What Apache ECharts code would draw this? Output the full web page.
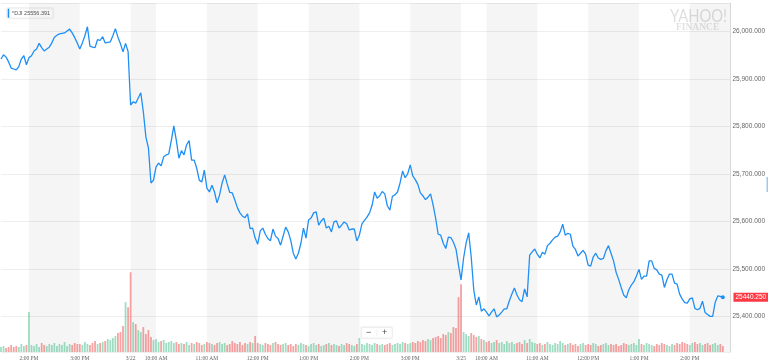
<!DOCTYPE html>
<html><head><meta charset="utf-8">
<script src="https://cdn.jsdelivr.net/npm/echarts@6/dist/echarts.min.js"></script>
<style>html,body{margin:0;padding:0;background:#fff}#c{width:768px;height:362px}</style>
</head><body><div id="c"></div>
<script>
// ---- data, 3-minute steps ----
const sessions = [
  {date:'3/21', start:'13:27', end:'15:57'},
  {date:'3/22', start:'09:30', end:'15:57'},
  {date:'3/25', start:'09:30', end:'14:48'}
];
const stepMinutes = 3;

const day1Prices = [25942,25951,25946,25936,25923,25921,25919,25926,25942,25949,
25930,25945,25949,25959,25963,25975,25966,25959,25963,25967,
25976,25988,25992,25995,25996,25997,26001,26005,25997,25987,
25976,25963,25976,25991,26010,25969,25967,25966,25983,25981,
25989,25976,25977,25978,25991,26006,25988,25974,25957,25975,
25958];
const day2Prices = [25845,25852,25849,25860,25871,25831,25778,25755,25681,25687,
25715,25723,25717,25736,25740,25742,25770,25801,25770,25733,
25749,25740,25761,25770,25729,25729,25712,25687,25683,25708,
25670,25662,25676,25662,25639,25656,25681,25698,25679,25661,
25660,25645,25629,25618,25611,25608,25616,25585,25586,25565,
25552,25580,25586,25573,25564,25559,25584,25569,25564,25550,
25569,25588,25578,25560,25533,25521,25533,25554,25586,25565,
25603,25607,25618,25620,25592,25601,25607,25586,25590,25578,
25599,25601,25586,25592,25599,25595,25582,25584,25584,25559,
25571,25595,25602,25609,25618,25634,25662,25649,25654,25663,
25658,25633,25624,25653,25656,25662,25681,25706,25692,25700,
25719,25696,25688,25678,25660,25654,25646,25651,25658,25635,
25607,25573,25571,25554,25543,25567,25566,25556,25542,25508];
const day3Prices = [25477,25523,25555,25576,25525,25456,25424,25441,25411,25416,
25409,25401,25409,25416,25399,25403,25409,25416,25416,25433,
25447,25460,25445,25435,25431,25458,25441,25529,25536,25542,
25531,25523,25535,25531,25549,25554,25561,25567,25569,25578,
25594,25571,25575,25573,25548,25541,25527,25533,25539,25531,
25508,25506,25525,25533,25523,25520,25522,25538,25549,25533,
25517,25493,25478,25461,25445,25439,25456,25466,25473,25485,
25499,25478,25485,25485,25517,25517,25501,25498,25489,25487,
25461,25477,25489,25489,25470,25468,25447,25437,25429,25428,
25437,25439,25417,25414,25417,25432,25408,25404,25400,25400,
25430,25443,25442,25440.25];

const day1Volumes = [0.5,0.6,0.4,0.5,0.7,0.5,0.6,0.5,0.8,0.6,0.7,
4.0,
0.7,0.6,0.8,0.5,0.9,0.7,0.6,0.8,0.7,0.9,0.6,0.8,0.7,1.0,0.6,0.8,0.7,0.9,0.8,
0.8,0.7,1.0,0.8,0.7,0.9,1.1,0.8,0.9,1.0,
1.1,1.3,1.2,1.4,1.6,1.9,
2.0,2.6,5.0,4.5];
const day2Volumes = [8.0,
3.0,2.8,2.2,2.0,2.5,1.8,2.2,
1.5,1.2,1.3,1.0,1.1,1.2,0.9,1.0,1.1,0.9,1.0,0.8,
0.9,0.8,1.0,0.7,0.9,0.8,1.0,0.9,0.7,0.8,1.0,0.9,0.8,0.7,0.9,1.0,0.8,0.9,0.7,0.8,1.1,0.9,0.8,1.0,0.7,0.9,0.8,1.0,0.9,1.6,
0.9,0.8,0.7,0.9,0.8,0.7,0.9,1.0,0.8,0.7,0.8,0.9,0.7,0.8,0.6,0.8,0.7,0.9,0.8,0.7,0.6,0.8,0.9,0.7,0.8,0.6,0.7,0.8,0.9,0.7,
0.8,0.7,0.6,0.8,0.7,0.9,0.8,0.7,0.6,0.8,1.4,0.8,0.7,0.9,0.8,0.7,0.9,0.8,0.7,0.8,
0.7,0.8,0.9,0.7,0.8,0.9,0.8,1.0,0.9,0.8,0.9,1.0,0.9,1.1,1.0,1.2,1.1,1.3,1.2,1.4,
1.5,1.6,1.4,1.8,1.7,2.0,1.9,2.5,2.4,5.5];
const day3Volumes = [6.8,
2.0,1.8,1.6,1.9,1.7,1.5,1.6,1.3,1.2,
1.0,1.1,0.9,1.0,1.2,0.9,1.0,0.8,1.1,0.9,1.0,0.8,0.9,1.0,0.8,1.2,0.9,1.3,1.0,0.9,
0.8,0.9,0.7,0.8,1.0,0.8,0.7,0.9,0.8,1.1,0.9,0.7,0.8,0.9,0.7,0.8,0.6,0.8,0.9,0.7,0.8,0.7,0.9,0.8,0.6,0.7,0.8,0.9,0.7,0.8,
0.7,0.8,0.6,0.7,0.9,0.8,0.7,0.8,0.9,0.7,1.3,0.8,0.7,0.9,0.8,0.7,0.6,0.8,0.7,0.9,0.8,0.7,0.6,0.8,0.7,0.9,0.8,1.0,0.9,0.8,0.7,0.9,1.0,0.8,0.9,0.7,0.8,0.9,0.7,0.8,0.9,0.7,0.8,0.6];

const tickCats = ['3/21 14:00','3/21 15:00','3/22 09:30','3/22 10:00','3/22 11:00','3/22 12:00','3/22 13:00','3/22 14:00','3/22 15:00','3/25 09:30','3/25 10:00','3/25 11:00','3/25 12:00','3/25 13:00','3/25 14:00'];
const tickLabels = ['2:00 PM','3:00 PM','3/22','10:00 AM','11:00 AM','12:00 PM','1:00 PM','2:00 PM','3:00 PM','3/25','10:00 AM','11:00 AM','12:00 PM','1:00 PM','2:00 PM'];
const symbolName = '^DJI';
const legendValue = '25556.391';
const lastPrice = 25440.25;

// ---- build ----
function toMin(s){const p=s.split(':');return +p[0]*60+ +p[1];}
function pad(n){return (n<10?'0':'')+n;}
const categories = [];
sessions.forEach(s=>{
  for(let m=toMin(s.start); m<=toMin(s.end); m+=stepMinutes){
    categories.push(s.date+' '+pad(Math.floor(m/60))+':'+pad(m%60));
  }
});
const prices = day1Prices.concat(day2Prices, day3Prices);
const volumes = day1Volumes.concat(day2Volumes, day3Volumes);
while(prices.length<categories.length) prices.push(null);
while(volumes.length<categories.length) volumes.push(null);
const lastIdx = day1Prices.length+day2Prices.length+day3Prices.length-1;

const tickMap = new Map(tickCats.map((c,i)=>[c,tickLabels[i]]));
const bands = [];
for(let k=0;k<tickCats.length;k+=2){
  bands.push([{xAxis: tickCats[k]},{xAxis: tickCats[k+1] || categories[categories.length-1]}]);
}
const volData = volumes.map((v,i)=>{
  if(v==null) return null;
  const up = i===0 || prices[i]>=prices[i-1];
  return {value:v, itemStyle:{color: up ? 'rgba(40,180,120,0.45)' : 'rgba(240,70,70,0.5)'}};
});
const fmt = v => v.toLocaleString('en-US',{minimumFractionDigits:3, maximumFractionDigits:3});
const blue = '#1f8ff5';

const chart = echarts.init(document.getElementById('c'));
chart.setOption({
  animation:false,
  grid:{left:1, right:32, top:3, bottom:10},
  xAxis:{type:'category', data:categories, boundaryGap:false,
    axisLine:{show:false}, axisTick:{show:false}, splitLine:{show:false},
    axisLabel:{interval:(i,v)=>tickMap.has(v), formatter:v=>tickMap.get(v)||'',
      fontSize:5.5, color:'#666', fontFamily:'Liberation Serif', margin:4}},
  yAxis:[
    {type:'value', position:'right', min:25325, max:26060, splitNumber:7,
     axisLine:{show:true, lineStyle:{color:'#dcdcdc'}}, axisTick:{show:false},
     splitLine:{lineStyle:{color:'#eeeeee'}},
     axisLabel:{showMinLabel:false, showMaxLabel:false, margin:2, fontSize:6.5, color:'#666',
       fontFamily:'Liberation Sans', formatter:fmt}},
    {type:'value', min:0, max:35, show:false, splitLine:{show:false}}
  ],
  series:[
    {type:'line', data:categories.map(()=>null), z:1, silent:true,
     markArea:{silent:true, itemStyle:{color:'rgba(0,0,0,0.04)'}, data:bands}},
    {type:'bar', yAxisIndex:1, data:volData, barCategoryGap:'30%', z:2, silent:true},
    {type:'line', data:prices, yAxisIndex:0, showSymbol:false, z:3,
     lineStyle:{color:blue, width:1.3}, itemStyle:{color:blue},
     markPoint:{symbol:'circle', symbolSize:4, itemStyle:{color:blue}, label:{show:false},
       data:[{coord:[categories[lastIdx], prices[lastIdx]]}]}},
    {type:'line', data:categories.map(()=>null), yAxisIndex:0, z:5, silent:true,
     markLine:{silent:true, symbol:['none','none'],
       lineStyle:{color:'rgba(0,0,0,0)', width:0.1, type:'solid'},
       data:[{yAxis:lastPrice}],
       label:{show:true, position:'end', distance:3, formatter:lastPrice.toFixed(3), color:'#fff',
         backgroundColor:'#ff3a44', padding:[1,2,1,2], fontSize:6.5, fontFamily:'Liberation Sans'}}}
  ],
  graphic:[
    {type:'group', left:7, top:8, children:[
      {type:'rect', shape:{x:0,y:0,width:46,height:10}, style:{fill:'#fff', stroke:'#eee', lineWidth:0.5, shadowBlur:2, shadowColor:'rgba(0,0,0,0.12)'}},
      {type:'rect', shape:{x:0.5,y:0.5,width:1.5,height:9}, style:{fill:blue}},
      {type:'text', x:4.5, y:5, style:{text:symbolName+' '+legendValue, fontSize:5.5, fill:'#555', verticalAlign:'middle', fontFamily:'Liberation Sans'}}
    ]},
    {type:'text', left:670, top:7, scaleX:0.82, style:{text:'YAHOO!', fontSize:18, fill:'#dedede', fontFamily:'Lato'}},
    {type:'text', left:676, top:23, style:{text:'FINANCE', fontSize:9.5, fill:'#e2e2e2', fontFamily:'Liberation Serif', fontWeight:'bold'}},
    {type:'group', left:361, top:327, children:[
      {type:'rect', shape:{x:0,y:0,width:31,height:11}, style:{fill:'#fff', stroke:'#e6e6e6', lineWidth:0.5, shadowBlur:2, shadowColor:'rgba(0,0,0,0.1)'}},
      {type:'rect', shape:{x:15.5,y:2,width:0.5,height:7}, style:{fill:'#ddd'}},
      {type:'text', x:7.5, y:5.5, style:{text:'\u2212', fontSize:9, fill:'#444', align:'center', verticalAlign:'middle'}},
      {type:'text', x:23.5, y:5.5, style:{text:'+', fontSize:9, fill:'#444', align:'center', verticalAlign:'middle'}}
    ]},
    {type:'rect', shape:{x:766.5,y:177,width:1.5,height:15}, style:{fill:'#9cc8f2'}}
  ]
});
</script></body></html>
